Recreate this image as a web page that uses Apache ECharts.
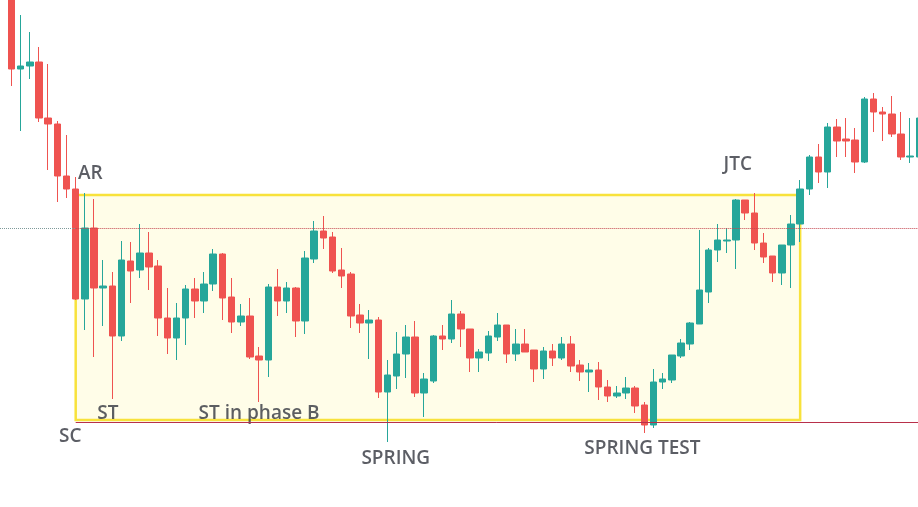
<!DOCTYPE html>
<html>
<head>
<meta charset="utf-8">
<script src="https://cdn.jsdelivr.net/npm/echarts@6/dist/echarts.min.js"></script>
<style>
  html, body { margin: 0; padding: 0; background: #fff; }
  #main { width: 918px; height: 507px; }
</style>
</head>
<body>
<div id="main"></div>
<script>
// candles: [open, close, low, high]  (price units)
var candles = [
  [512, 438, 421, 517], [438, 441, 376, 492], [441, 445, 428, 475], [445, 389, 385, 460],
  [389, 383, 337, 443], [383, 331, 305, 386], [331, 318, 309, 372], [318, 208, 207, 330],
  [208, 279, 177, 314], [279, 219, 150, 308], [219, 221, 181, 247], [221, 171, 108, 235],
  [171, 247, 166, 266], [246, 236, 204, 265], [237, 254, 229, 283], [254, 240, 217, 275],
  [241, 189, 171, 247], [189, 169, 153, 219], [169, 189, 147, 204], [189, 218, 162, 222],
  [218, 206, 189, 229], [206, 223, 194, 235], [223, 253, 216, 258], [253, 209, 187, 254],
  [210, 185, 174, 229], [185, 191, 181, 203], [191, 150, 148, 209], [151, 147, 105, 160],
  [147, 220, 130, 223], [220, 206, 191, 238], [206, 219, 194, 225], [219, 186, 170, 220],
  [186, 249, 173, 256], [248, 276, 244, 286], [276, 269, 258, 291], [270, 236, 234, 275],
  [237, 231, 219, 259], [233, 191, 179, 235], [192, 184, 174, 203], [184, 187, 148, 197],
  [187, 115, 109, 190], [115, 132, 65, 147], [131, 153, 118, 175], [153, 170, 129, 182],
  [170, 114, 110, 186], [114, 128, 90, 134], [126, 171, 124, 172], [171, 168, 157, 182],
  [168, 193, 164, 207], [193, 178, 160, 196], [178, 149, 135, 178], [149, 155, 135, 158],
  [154, 171, 146, 176], [170, 182, 166, 194], [182, 153, 144, 182], [153, 163, 146, 178],
  [163, 155, 155, 178], [157, 138, 125, 157], [138, 156, 128, 160], [156, 149, 141, 163],
  [149, 163, 147, 170], [163, 141, 135, 171], [142, 135, 126, 147], [135, 137, 115, 144],
  [137, 120, 107, 145], [120, 111, 105, 127], [111, 114, 109, 121], [114, 119, 108, 130],
  [119, 101, 94, 121], [102, 82, 74, 105], [82, 125, 79, 138], [125, 128, 118, 134],
  [127, 152, 124, 152], [151, 164, 149, 168], [163, 184, 157, 185], [183, 217, 183, 277],
  [215, 257, 204, 259], [257, 267, 245, 283], [266, 267, 254, 279], [267, 307, 238, 308],
  [307, 294, 287, 307], [294, 264, 257, 314], [264, 250, 244, 274], [251, 234, 225, 251],
  [234, 262, 222, 262], [262, 283, 219, 292], [283, 318, 265, 327], [318, 350, 312, 352],
  [350, 335, 324, 363], [335, 380, 319, 384], [380, 366, 350, 388], [368, 366, 350, 389],
  [367, 345, 334, 379], [345, 408, 344, 410], [408, 395, 375, 414], [395, 393, 366, 400],
  [393, 373, 370, 411], [373, 350, 347, 395], [350, 351, 344, 389], [350, 389, 345, 395]
];

// trading range box (bar index / price)
var rangeBox = { fromBar: 7, toBar: 86, top: 312, bottom: 87 };
var resistanceLevel = 279;
var supportLevel = 85;

// annotations: [bar position, price, text]
var annotations = [
  [8.6, 333, 'AR'],
  [6.4, 70, 'SC'],
  [10.5, 93.5, 'ST'],
  [27.0, 93.5, 'ST in phase B'],
  [41.9, 48.5, 'SPRING'],
  [68.8, 58.5, 'SPRING TEST'],
  [79.2, 342.5, 'JTC']
];

var xMin = -1.254, xMax = 98.85;
var candleData = candles.map(function (c, i) { return [i, c[0], c[1], c[2], c[3]]; });

var chart = echarts.init(document.getElementById('main'));
chart.setOption({
  animation: false,
  backgroundColor: '#ffffff',
  grid: { left: 0, right: 0, top: 0, bottom: 0 },
  xAxis: { type: 'value', min: xMin, max: xMax, show: false, splitLine: { show: false } },
  yAxis: { type: 'value', min: 0, max: 507, show: false, splitLine: { show: false } },
  series: [
    {
      // box + levels behind the candles
      type: 'line',
      data: [],
      z: 1,
      silent: true,
      markArea: {
        silent: true,
        itemStyle: { color: '#fffde8', borderColor: '#f8e23b', borderWidth: 2.5 },
        data: [[
          { coord: [rangeBox.fromBar, rangeBox.top] },
          { coord: [rangeBox.toBar, rangeBox.bottom] }
        ]]
      },
      markLine: {
        silent: true,
        symbol: 'none',
        label: { show: false },
        data: [
          [{ coord: [xMin, resistanceLevel], lineStyle: { color: '#7f9a9a', type: 'dotted', width: 1 } },
           { coord: [rangeBox.fromBar, resistanceLevel] }],
          [{ coord: [rangeBox.fromBar, resistanceLevel], lineStyle: { color: '#c3454f', type: 'dotted', width: 1 } },
           { coord: [xMax, resistanceLevel] }],
          [{ coord: [rangeBox.fromBar, supportLevel], lineStyle: { color: '#b8304a', type: 'solid', width: 1 } },
           { coord: [xMax, supportLevel] }]
        ]
      }
    },
    {
      type: 'candlestick',
      z: 3,
      barWidth: 7,
      encode: { x: 0, y: [1, 2, 3, 4] },
      data: candleData,
      itemStyle: {
        color: '#26a69a',
        color0: '#ef5350',
        borderColor: '#26a69a',
        borderColor0: '#ef5350',
        borderWidth: 1
      }
    },
    {
      type: 'scatter',
      z: 4,
      silent: true,
      symbolSize: 1,
      itemStyle: { color: 'rgba(0,0,0,0)' },
      label: {
        show: true,
        position: 'inside',
        formatter: function (p) { return p.data[2]; },
        fontFamily: 'Open Sans',
        fontSize: 19,
        fontWeight: 600,
        color: '#33363f'
      },
      data: annotations
    }
  ]
});
</script>
</body>
</html>
